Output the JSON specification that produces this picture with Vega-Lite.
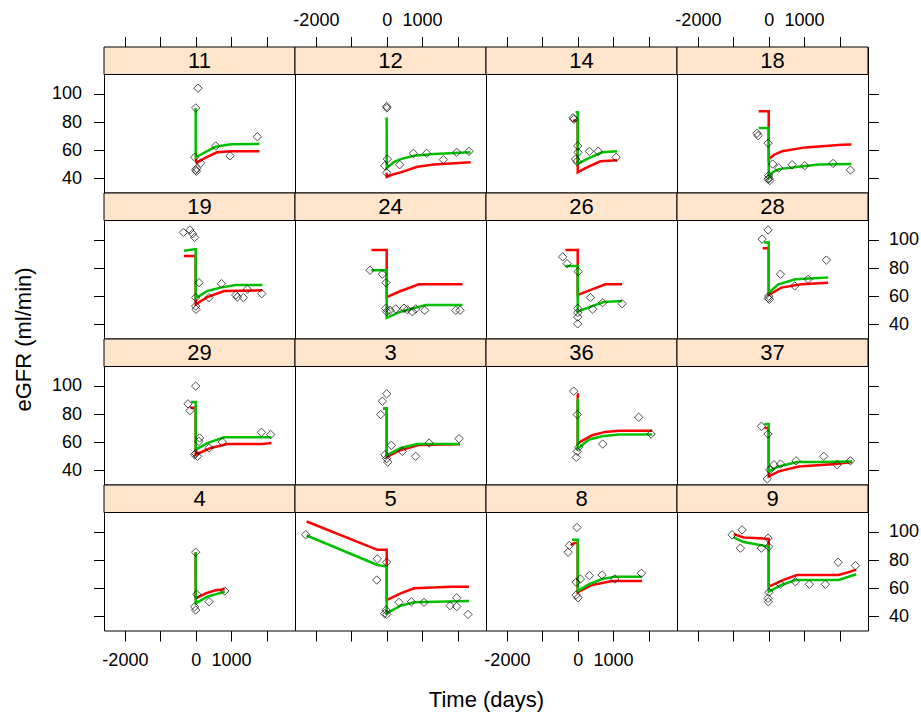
{
"$schema": "https://vega.github.io/schema/vega-lite/v6.json",
"padding": {"left": 11, "top": 11, "right": 2, "bottom": 2},
"datasets": {
"strips": [{"p":"11"},{"p":"12"},{"p":"14"},{"p":"18"},{"p":"19"},{"p":"24"},{"p":"26"},{"p":"28"},{"p":"29"},{"p":"3"},{"p":"36"},{"p":"37"},{"p":"4"},{"p":"5"},{"p":"8"},{"p":"9"}],
"obs": [
{"p":"11","t":65,"v":104},{"p":"11","t":0,"v":90},{"p":"11","t":-28,"v":55},{"p":"11","t":140,"v":51},{"p":"11","t":0,"v":46},{"p":"11","t":20,"v":45},{"p":"11","t":30,"v":47},{"p":"11","t":565,"v":63},{"p":"11","t":970,"v":56},{"p":"11","t":1743,"v":69.5},
{"p":"12","t":0,"v":91},{"p":"12","t":5,"v":90},{"p":"12","t":20,"v":53.7},{"p":"12","t":-56,"v":49},{"p":"12","t":0,"v":44},{"p":"12","t":367,"v":49.7},{"p":"12","t":754,"v":57.8},{"p":"12","t":1130,"v":57.8},{"p":"12","t":1601,"v":53.3},{"p":"12","t":1977,"v":58.5},{"p":"12","t":2326,"v":59.2},
{"p":"14","t":-130,"v":83},{"p":"14","t":-110,"v":82},{"p":"14","t":0,"v":63},{"p":"14","t":10,"v":58.5},{"p":"14","t":-60,"v":53.7},{"p":"14","t":-20,"v":52},{"p":"14","t":330,"v":59.2},{"p":"14","t":576,"v":59.2},{"p":"14","t":1085,"v":55},
{"p":"18","t":-330,"v":72},{"p":"18","t":-300,"v":70.3},{"p":"18","t":-17,"v":65},{"p":"18","t":0,"v":42},{"p":"18","t":10,"v":40},{"p":"18","t":-20,"v":39.5},{"p":"18","t":30,"v":38.5},{"p":"18","t":113,"v":50.2},{"p":"18","t":283,"v":47.3},{"p":"18","t":661,"v":49.7},{"p":"18","t":1017,"v":49},{"p":"18","t":1819,"v":50.6},{"p":"18","t":2308,"v":45.9},
{"p":"19","t":-348,"v":105.2},{"p":"19","t":-161,"v":107},{"p":"19","t":-90,"v":104.3},{"p":"19","t":-30,"v":101.7},{"p":"19","t":94,"v":69.6},{"p":"19","t":0,"v":59},{"p":"19","t":0,"v":53},{"p":"19","t":10,"v":50.7},{"p":"19","t":377,"v":59},{"p":"19","t":726,"v":68.9},{"p":"19","t":1130,"v":60.9},{"p":"19","t":1177,"v":59.4},{"p":"19","t":1347,"v":59},{"p":"19","t":1460,"v":64.9},{"p":"19","t":1865,"v":61.8},
{"p":"24","t":-471,"v":78.4},{"p":"24","t":-122,"v":75.6},{"p":"24","t":-20,"v":69.6},{"p":"24","t":-30,"v":51.4},{"p":"24","t":0,"v":49},{"p":"24","t":93,"v":50},{"p":"24","t":254,"v":51},{"p":"24","t":489,"v":51.5},{"p":"24","t":584,"v":50.5},{"p":"24","t":726,"v":49},{"p":"24","t":819,"v":51},{"p":"24","t":1073,"v":50},{"p":"24","t":1950,"v":50},{"p":"24","t":2070,"v":50},
{"p":"26","t":-424,"v":87.9},{"p":"26","t":-300,"v":83.1},{"p":"26","t":15,"v":77.4},{"p":"26","t":359,"v":59},{"p":"26","t":424,"v":50.7},{"p":"26","t":0,"v":51.4},{"p":"26","t":0,"v":48.3},{"p":"26","t":0,"v":45.2},{"p":"26","t":0,"v":40.4},{"p":"26","t":706,"v":55.4},{"p":"26","t":1254,"v":54.7},
{"p":"28","t":-17,"v":107},{"p":"28","t":-186,"v":100.5},{"p":"28","t":331,"v":75.6},{"p":"28","t":735,"v":67.3},{"p":"28","t":1113,"v":72},{"p":"28","t":1630,"v":85.6},{"p":"28","t":0,"v":60},{"p":"28","t":20,"v":57.8},{"p":"28","t":-10,"v":58.5},
{"p":"29","t":0,"v":99.8},{"p":"29","t":-217,"v":87.2},{"p":"29","t":-161,"v":82.4},{"p":"29","t":110,"v":63},{"p":"29","t":90,"v":60.6},{"p":"29","t":-30,"v":51.1},{"p":"29","t":50,"v":50},{"p":"29","t":0,"v":52},{"p":"29","t":377,"v":55.9},{"p":"29","t":754,"v":60.1},{"p":"29","t":1856,"v":67},{"p":"29","t":2119,"v":65.4},
{"p":"3","t":0,"v":94.3},{"p":"3","t":-122,"v":89.1},{"p":"3","t":-170,"v":79.6},{"p":"3","t":132,"v":57.8},{"p":"3","t":-50,"v":51.1},{"p":"3","t":0,"v":48.3},{"p":"3","t":30,"v":45.9},{"p":"3","t":443,"v":53.5},{"p":"3","t":819,"v":50},{"p":"3","t":1196,"v":59.4},{"p":"3","t":2044,"v":62.5},
{"p":"36","t":-113,"v":96.2},{"p":"36","t":-10,"v":79.6},{"p":"36","t":30,"v":56.4},{"p":"36","t":-10,"v":53.5},{"p":"36","t":-40,"v":49.3},{"p":"36","t":706,"v":58.7},{"p":"36","t":1723,"v":77.7},{"p":"36","t":2073,"v":65.8},
{"p":"37","t":-206,"v":71.3},{"p":"37","t":-20,"v":65.8},{"p":"37","t":150,"v":44},{"p":"37","t":30,"v":40.4},{"p":"37","t":-40,"v":34},{"p":"37","t":331,"v":44.5},{"p":"37","t":774,"v":46.8},{"p":"37","t":1555,"v":50},{"p":"37","t":1932,"v":44},{"p":"37","t":2308,"v":46.8},
{"p":"4","t":0,"v":85.5},{"p":"4","t":30,"v":55.7},{"p":"4","t":-30,"v":46.8},{"p":"4","t":0,"v":44.5},{"p":"4","t":377,"v":50.4},{"p":"4","t":820,"v":58},
{"p":"5","t":-2288,"v":97.9},{"p":"5","t":-263,"v":80.8},{"p":"5","t":0,"v":78.4},{"p":"5","t":-282,"v":65.8},{"p":"5","t":-20,"v":44.5},{"p":"5","t":0,"v":41.4},{"p":"5","t":-60,"v":42},{"p":"5","t":348,"v":50},{"p":"5","t":697,"v":50.4},{"p":"5","t":1054,"v":50},{"p":"5","t":1789,"v":47.6},{"p":"5","t":1978,"v":53.2},{"p":"5","t":1978,"v":47},{"p":"5","t":2298,"v":41.4},
{"p":"8","t":-20,"v":103.1},{"p":"8","t":-234,"v":90.3},{"p":"8","t":-271,"v":85.5},{"p":"8","t":-45,"v":64.2},{"p":"8","t":76,"v":66.5},{"p":"8","t":-45,"v":55.2},{"p":"8","t":10,"v":53.2},{"p":"8","t":330,"v":68.9},{"p":"8","t":689,"v":69.4},{"p":"8","t":1045,"v":66.5},{"p":"8","t":1800,"v":70.6},
{"p":"9","t":-1034,"v":97.9},{"p":"9","t":-752,"v":101.4},{"p":"9","t":-800,"v":88.4},{"p":"9","t":-206,"v":88.4},{"p":"9","t":-17,"v":95.5},{"p":"9","t":0,"v":89.5},{"p":"9","t":-17,"v":52.8},{"p":"9","t":-10,"v":50.4},{"p":"9","t":10,"v":57.1},{"p":"9","t":331,"v":62.8},{"p":"9","t":754,"v":64.6},{"p":"9","t":1150,"v":62.8},{"p":"9","t":1602,"v":62.8},{"p":"9","t":1960,"v":78.4},{"p":"9","t":2450,"v":76}
],
"fit": [
{"p":"11","c":"red","t":0,"v":54},{"p":"11","c":"red","t":30,"v":51},{"p":"11","c":"red","t":300,"v":55},{"p":"11","c":"red","t":600,"v":58.5},{"p":"11","c":"red","t":1000,"v":59.3},{"p":"11","c":"red","t":1800,"v":59.3},
{"p":"11","c":"green","t":0,"v":90},{"p":"11","c":"green","t":1,"v":55},{"p":"11","c":"green","t":300,"v":59},{"p":"11","c":"green","t":565,"v":62.5},{"p":"11","c":"green","t":990,"v":64.2},{"p":"11","c":"green","t":1800,"v":64.5},
{"p":"12","c":"red","t":0,"v":44},{"p":"12","c":"red","t":5,"v":41},{"p":"12","c":"red","t":200,"v":43},{"p":"12","c":"red","t":395,"v":44.3},{"p":"12","c":"red","t":867,"v":48.3},{"p":"12","c":"red","t":1337,"v":49.8},{"p":"12","c":"red","t":2370,"v":51.4},
{"p":"12","c":"green","t":0,"v":83.4},{"p":"12","c":"green","t":1,"v":47.3},{"p":"12","c":"green","t":200,"v":51.5},{"p":"12","c":"green","t":395,"v":53.7},{"p":"12","c":"green","t":772,"v":56.1},{"p":"12","c":"green","t":1337,"v":57.3},{"p":"12","c":"green","t":2370,"v":58.5},
{"p":"14","c":"red","t":-130,"v":81},{"p":"14","c":"red","t":0,"v":81},{"p":"14","c":"red","t":1,"v":44.3},{"p":"14","c":"red","t":218,"v":47.3},{"p":"14","c":"red","t":641,"v":52.1},{"p":"14","c":"red","t":1113,"v":52.8},
{"p":"14","c":"green","t":-60,"v":87},{"p":"14","c":"green","t":0,"v":87},{"p":"14","c":"green","t":1,"v":50.2},{"p":"14","c":"green","t":200,"v":53},{"p":"14","c":"green","t":407,"v":55.4},{"p":"14","c":"green","t":689,"v":58.5},{"p":"14","c":"green","t":1113,"v":59.2},
{"p":"18","c":"red","t":-283,"v":87.7},{"p":"18","c":"red","t":0,"v":87.7},{"p":"18","c":"red","t":1,"v":53.7},{"p":"18","c":"red","t":150,"v":56.8},{"p":"18","c":"red","t":379,"v":59.2},{"p":"18","c":"red","t":1037,"v":62},{"p":"18","c":"red","t":2074,"v":63.9},{"p":"18","c":"red","t":2336,"v":64},
{"p":"18","c":"green","t":-283,"v":75.8},{"p":"18","c":"green","t":0,"v":75.8},{"p":"18","c":"green","t":1,"v":40.7},{"p":"18","c":"green","t":120,"v":44.5},{"p":"18","c":"green","t":283,"v":46.6},{"p":"18","c":"green","t":848,"v":48.3},{"p":"18","c":"green","t":1413,"v":49.8},{"p":"18","c":"green","t":2336,"v":50.2},
{"p":"19","c":"red","t":-330,"v":88.6},{"p":"19","c":"red","t":0,"v":88.6},{"p":"19","c":"red","t":1,"v":54.2},{"p":"19","c":"red","t":330,"v":59.4},{"p":"19","c":"red","t":800,"v":63.7},{"p":"19","c":"red","t":1884,"v":64.2},
{"p":"19","c":"green","t":-330,"v":92.2},{"p":"19","c":"green","t":0,"v":93.4},{"p":"19","c":"green","t":1,"v":58.5},{"p":"19","c":"green","t":330,"v":63.7},{"p":"19","c":"green","t":706,"v":66.1},{"p":"19","c":"green","t":1130,"v":68},{"p":"19","c":"green","t":1884,"v":68},
{"p":"24","c":"red","t":-433,"v":92.7},{"p":"24","c":"red","t":0,"v":92.7},{"p":"24","c":"red","t":1,"v":59.4},{"p":"24","c":"red","t":395,"v":63.7},{"p":"24","c":"red","t":913,"v":68.4},{"p":"24","c":"red","t":2138,"v":68.4},
{"p":"24","c":"green","t":-433,"v":78.4},{"p":"24","c":"green","t":0,"v":78.4},{"p":"24","c":"green","t":1,"v":44.7},{"p":"24","c":"green","t":395,"v":49},{"p":"24","c":"green","t":1102,"v":53.7},{"p":"24","c":"green","t":2138,"v":53.7},
{"p":"26","c":"red","t":-346,"v":92.7},{"p":"26","c":"red","t":0,"v":92.7},{"p":"26","c":"red","t":1,"v":60.9},{"p":"26","c":"red","t":407,"v":64.9},{"p":"26","c":"red","t":783,"v":68.4},{"p":"26","c":"red","t":1254,"v":68.4},
{"p":"26","c":"green","t":-346,"v":81.5},{"p":"26","c":"green","t":0,"v":81.5},{"p":"26","c":"green","t":1,"v":49},{"p":"26","c":"green","t":407,"v":53},{"p":"26","c":"green","t":735,"v":55.9},{"p":"26","c":"green","t":1254,"v":56.6},
{"p":"28","c":"red","t":-170,"v":94.1},{"p":"28","c":"red","t":0,"v":94.1},{"p":"28","c":"red","t":1,"v":60.9},{"p":"28","c":"red","t":359,"v":66.1},{"p":"28","c":"red","t":924,"v":68.4},{"p":"28","c":"red","t":1678,"v":69.6},
{"p":"28","c":"green","t":-130,"v":98.1},{"p":"28","c":"green","t":0,"v":98.1},{"p":"28","c":"green","t":1,"v":62.5},{"p":"28","c":"green","t":274,"v":68.4},{"p":"28","c":"green","t":754,"v":72},{"p":"28","c":"green","t":1678,"v":73.2},
{"p":"29","c":"red","t":-150,"v":84.5},{"p":"29","c":"red","t":0,"v":84.5},{"p":"29","c":"red","t":1,"v":51.1},{"p":"29","c":"red","t":424,"v":55.9},{"p":"29","c":"red","t":895,"v":58.7},{"p":"29","c":"red","t":1884,"v":58.7},{"p":"29","c":"red","t":2138,"v":59.4},
{"p":"29","c":"green","t":-130,"v":88.6},{"p":"29","c":"green","t":0,"v":88.6},{"p":"29","c":"green","t":1,"v":54.7},{"p":"29","c":"green","t":330,"v":59.4},{"p":"29","c":"green","t":800,"v":63.5},{"p":"29","c":"green","t":2138,"v":63.5},
{"p":"3","c":"red","t":-100,"v":83.9},{"p":"3","c":"red","t":0,"v":83.9},{"p":"3","c":"red","t":1,"v":49.5},{"p":"3","c":"red","t":400,"v":54.5},{"p":"3","c":"red","t":900,"v":58},{"p":"3","c":"red","t":2071,"v":58.5},
{"p":"3","c":"green","t":-100,"v":83.9},{"p":"3","c":"green","t":0,"v":83.9},{"p":"3","c":"green","t":1,"v":50.7},{"p":"3","c":"green","t":395,"v":55.9},{"p":"3","c":"green","t":867,"v":58.7},{"p":"3","c":"green","t":2071,"v":58.7},
{"p":"36","c":"red","t":-20,"v":94},{"p":"36","c":"red","t":0,"v":94},{"p":"36","c":"red","t":1,"v":59.4},{"p":"36","c":"red","t":407,"v":64.9},{"p":"36","c":"red","t":783,"v":67.3},{"p":"36","c":"red","t":1158,"v":68.2},{"p":"36","c":"red","t":2101,"v":68.2},
{"p":"36","c":"green","t":-20,"v":90.3},{"p":"36","c":"green","t":0,"v":90.3},{"p":"36","c":"green","t":1,"v":55.4},{"p":"36","c":"green","t":311,"v":61.8},{"p":"36","c":"green","t":689,"v":64.2},{"p":"36","c":"green","t":1158,"v":65.4},{"p":"36","c":"green","t":2101,"v":65.4},
{"p":"37","c":"red","t":-120,"v":70.1},{"p":"37","c":"red","t":0,"v":70.1},{"p":"37","c":"red","t":1,"v":35.7},{"p":"37","c":"red","t":283,"v":39.3},{"p":"37","c":"red","t":848,"v":42.8},{"p":"37","c":"red","t":1885,"v":44.5},{"p":"37","c":"red","t":2357,"v":45.9},
{"p":"37","c":"green","t":-120,"v":73},{"p":"37","c":"green","t":0,"v":73},{"p":"37","c":"green","t":1,"v":39.3},{"p":"37","c":"green","t":283,"v":42.8},{"p":"37","c":"green","t":802,"v":45.9},{"p":"37","c":"green","t":1413,"v":45.9},{"p":"37","c":"green","t":2357,"v":46.4},
{"p":"4","c":"red","t":0,"v":85.5},{"p":"4","c":"red","t":1,"v":52.8},{"p":"4","c":"red","t":300,"v":56.5},{"p":"4","c":"red","t":565,"v":58.5},{"p":"4","c":"red","t":820,"v":59.2},
{"p":"4","c":"green","t":0,"v":85.5},{"p":"4","c":"green","t":1,"v":49.2},{"p":"4","c":"green","t":330,"v":54},{"p":"4","c":"green","t":820,"v":57.5},
{"p":"5","c":"red","t":-2260,"v":107.3},{"p":"5","c":"red","t":-263,"v":87.2},{"p":"5","c":"red","t":0,"v":87.2},{"p":"5","c":"red","t":1,"v":51.6},{"p":"5","c":"red","t":395,"v":56.4},{"p":"5","c":"red","t":772,"v":59.9},{"p":"5","c":"red","t":1836,"v":61.1},{"p":"5","c":"red","t":2326,"v":61.1},
{"p":"5","c":"green","t":-2260,"v":97.4},{"p":"5","c":"green","t":-263,"v":76.5},{"p":"5","c":"green","t":0,"v":75.4},{"p":"5","c":"green","t":1,"v":42.1},{"p":"5","c":"green","t":395,"v":47.6},{"p":"5","c":"green","t":772,"v":50},{"p":"5","c":"green","t":2326,"v":50.9},
{"p":"8","c":"red","t":-200,"v":90.5},{"p":"8","c":"red","t":-100,"v":92},{"p":"8","c":"red","t":0,"v":92},{"p":"8","c":"red","t":1,"v":57.1},{"p":"8","c":"red","t":407,"v":62.3},{"p":"8","c":"red","t":972,"v":65.1},{"p":"8","c":"red","t":1818,"v":65.1},
{"p":"8","c":"green","t":-160,"v":94.3},{"p":"8","c":"green","t":0,"v":94.3},{"p":"8","c":"green","t":1,"v":58},{"p":"8","c":"green","t":311,"v":62.8},{"p":"8","c":"green","t":689,"v":66.5},{"p":"8","c":"green","t":1065,"v":68.2},{"p":"8","c":"green","t":1818,"v":68.2},
{"p":"9","c":"red","t":-989,"v":98.4},{"p":"9","c":"red","t":-706,"v":96},{"p":"9","c":"red","t":0,"v":95},{"p":"9","c":"red","t":1,"v":61.1},{"p":"9","c":"red","t":472,"v":66.5},{"p":"9","c":"red","t":802,"v":69.4},{"p":"9","c":"red","t":1978,"v":69.4},{"p":"9","c":"red","t":2470,"v":73},
{"p":"9","c":"green","t":-989,"v":96},{"p":"9","c":"green","t":-706,"v":92.7},{"p":"9","c":"green","t":0,"v":89.5},{"p":"9","c":"green","t":1,"v":57.5},{"p":"9","c":"green","t":359,"v":62.3},{"p":"9","c":"green","t":754,"v":65.8},{"p":"9","c":"green","t":1978,"v":65.8},{"p":"9","c":"green","t":2470,"v":69.9}
]
},
"columns": 4,
"spacing": 0,
"bounds": "flush",
"concat": [
{"width":191,"height":145.5,"resolve":{"axis":{"x":"independent","y":"independent"}},"layer":[
 {"data":{"name":"strips"},"transform":[{"filter":"datum.p=='11'"}],"mark":{"type":"rect","fill":"#ffe5cc","stroke":"black","strokeWidth":1},"encoding":{"x":{"datum":-2590,"type":"quantitative","axis":null},"x2":{"datum":2805},"y":{"datum":113.7,"type":"quantitative","axis":null},"y2":{"datum":133.2}}},
 {"data":{"name":"strips"},"transform":[{"filter":"datum.p=='11'"}],"mark":{"type":"text","fontSize":22,"font":"Liberation Sans","color":"black"},"encoding":{"x":{"datum":107.5,"type":"quantitative","axis":null},"y":{"datum":123.45,"type":"quantitative","axis":null},"text":{"field":"p"}}},
 {"data":{"name":"fit"},"transform":[{"filter":"datum.p=='11'"}],"mark":{"type":"line","strokeWidth":2.5},"encoding":{"x":{"field":"t","type":"quantitative","scale":{"domain":[-2590,2805],"nice":false,"zero":false},"axis":{"orient":"top","values":[-2000,-1000,0,1000,2000],"labels":false,"title":null}},"y":{"field":"v","type":"quantitative","scale":{"domain":[30,133.2],"nice":false,"zero":false},"axis":{"orient":"left","values":[40,60,80,100],"title":null}},"color":{"field":"c","type":"nominal","scale":{"domain":["red","green"],"range":["#ff0000","#00c000"]},"legend":null}}},
 {"data":{"name":"obs"},"transform":[{"filter":"datum.p=='11'"}],"mark":{"type":"point","shape":"diamond","filled":false,"color":"black","size":70,"strokeWidth":1},"encoding":{"x":{"field":"t","type":"quantitative","axis":null},"y":{"field":"v","type":"quantitative","axis":null}}}
]},
{"width":191,"height":145.5,"resolve":{"axis":{"x":"independent","y":"independent"}},"layer":[
 {"data":{"name":"strips"},"transform":[{"filter":"datum.p=='12'"}],"mark":{"type":"rect","fill":"#ffe5cc","stroke":"black","strokeWidth":1},"encoding":{"x":{"datum":-2590,"type":"quantitative","axis":null},"x2":{"datum":2805},"y":{"datum":113.7,"type":"quantitative","axis":null},"y2":{"datum":133.2}}},
 {"data":{"name":"strips"},"transform":[{"filter":"datum.p=='12'"}],"mark":{"type":"text","fontSize":22,"font":"Liberation Sans","color":"black"},"encoding":{"x":{"datum":107.5,"type":"quantitative","axis":null},"y":{"datum":123.45,"type":"quantitative","axis":null},"text":{"field":"p"}}},
 {"data":{"name":"fit"},"transform":[{"filter":"datum.p=='12'"}],"mark":{"type":"line","strokeWidth":2.5},"encoding":{"x":{"field":"t","type":"quantitative","scale":{"domain":[-2590,2805],"nice":false,"zero":false},"axis":{"orient":"top","values":[-2000,-1000,0,1000,2000],"labelExpr":"datum.value==-2000?'-2000':datum.value==0?'0':datum.value==1000?'1000':''","title":null}},"y":{"field":"v","type":"quantitative","scale":{"domain":[30,133.2],"nice":false,"zero":false},"axis":null},"color":{"field":"c","type":"nominal","scale":{"domain":["red","green"],"range":["#ff0000","#00c000"]},"legend":null}}},
 {"data":{"name":"obs"},"transform":[{"filter":"datum.p=='12'"}],"mark":{"type":"point","shape":"diamond","filled":false,"color":"black","size":70,"strokeWidth":1},"encoding":{"x":{"field":"t","type":"quantitative","axis":null},"y":{"field":"v","type":"quantitative","axis":null}}}
]},
{"width":191,"height":145.5,"resolve":{"axis":{"x":"independent","y":"independent"}},"layer":[
 {"data":{"name":"strips"},"transform":[{"filter":"datum.p=='14'"}],"mark":{"type":"rect","fill":"#ffe5cc","stroke":"black","strokeWidth":1},"encoding":{"x":{"datum":-2590,"type":"quantitative","axis":null},"x2":{"datum":2805},"y":{"datum":113.7,"type":"quantitative","axis":null},"y2":{"datum":133.2}}},
 {"data":{"name":"strips"},"transform":[{"filter":"datum.p=='14'"}],"mark":{"type":"text","fontSize":22,"font":"Liberation Sans","color":"black"},"encoding":{"x":{"datum":107.5,"type":"quantitative","axis":null},"y":{"datum":123.45,"type":"quantitative","axis":null},"text":{"field":"p"}}},
 {"data":{"name":"fit"},"transform":[{"filter":"datum.p=='14'"}],"mark":{"type":"line","strokeWidth":2.5},"encoding":{"x":{"field":"t","type":"quantitative","scale":{"domain":[-2590,2805],"nice":false,"zero":false},"axis":{"orient":"top","values":[-2000,-1000,0,1000,2000],"labels":false,"title":null}},"y":{"field":"v","type":"quantitative","scale":{"domain":[30,133.2],"nice":false,"zero":false},"axis":null},"color":{"field":"c","type":"nominal","scale":{"domain":["red","green"],"range":["#ff0000","#00c000"]},"legend":null}}},
 {"data":{"name":"obs"},"transform":[{"filter":"datum.p=='14'"}],"mark":{"type":"point","shape":"diamond","filled":false,"color":"black","size":70,"strokeWidth":1},"encoding":{"x":{"field":"t","type":"quantitative","axis":null},"y":{"field":"v","type":"quantitative","axis":null}}}
]},
{"width":191,"height":145.5,"resolve":{"axis":{"x":"independent","y":"independent"}},"layer":[
 {"data":{"name":"strips"},"transform":[{"filter":"datum.p=='18'"}],"mark":{"type":"rect","fill":"#ffe5cc","stroke":"black","strokeWidth":1},"encoding":{"x":{"datum":-2590,"type":"quantitative","axis":null},"x2":{"datum":2805},"y":{"datum":113.7,"type":"quantitative","axis":null},"y2":{"datum":133.2}}},
 {"data":{"name":"strips"},"transform":[{"filter":"datum.p=='18'"}],"mark":{"type":"text","fontSize":22,"font":"Liberation Sans","color":"black"},"encoding":{"x":{"datum":107.5,"type":"quantitative","axis":null},"y":{"datum":123.45,"type":"quantitative","axis":null},"text":{"field":"p"}}},
 {"data":{"name":"fit"},"transform":[{"filter":"datum.p=='18'"}],"mark":{"type":"line","strokeWidth":2.5},"encoding":{"x":{"field":"t","type":"quantitative","scale":{"domain":[-2590,2805],"nice":false,"zero":false},"axis":{"orient":"top","values":[-2000,-1000,0,1000,2000],"labelExpr":"datum.value==-2000?'-2000':datum.value==0?'0':datum.value==1000?'1000':''","title":null}},"y":{"field":"v","type":"quantitative","scale":{"domain":[30,133.2],"nice":false,"zero":false},"axis":{"orient":"right","values":[40,60,80,100],"labels":false,"title":null}},"color":{"field":"c","type":"nominal","scale":{"domain":["red","green"],"range":["#ff0000","#00c000"]},"legend":null}}},
 {"data":{"name":"obs"},"transform":[{"filter":"datum.p=='18'"}],"mark":{"type":"point","shape":"diamond","filled":false,"color":"black","size":70,"strokeWidth":1},"encoding":{"x":{"field":"t","type":"quantitative","axis":null},"y":{"field":"v","type":"quantitative","axis":null}}}
]},
{"width":191,"height":145.5,"resolve":{"axis":{"x":"independent","y":"independent"}},"layer":[
 {"data":{"name":"strips"},"transform":[{"filter":"datum.p=='19'"}],"mark":{"type":"rect","fill":"#ffe5cc","stroke":"black","strokeWidth":1},"encoding":{"x":{"datum":-2590,"type":"quantitative","axis":null},"x2":{"datum":2805},"y":{"datum":113.7,"type":"quantitative","axis":null},"y2":{"datum":133.2}}},
 {"data":{"name":"strips"},"transform":[{"filter":"datum.p=='19'"}],"mark":{"type":"text","fontSize":22,"font":"Liberation Sans","color":"black"},"encoding":{"x":{"datum":107.5,"type":"quantitative","axis":null},"y":{"datum":123.45,"type":"quantitative","axis":null},"text":{"field":"p"}}},
 {"data":{"name":"fit"},"transform":[{"filter":"datum.p=='19'"}],"mark":{"type":"line","strokeWidth":2.5},"encoding":{"x":{"field":"t","type":"quantitative","scale":{"domain":[-2590,2805],"nice":false,"zero":false},"axis":null},"y":{"field":"v","type":"quantitative","scale":{"domain":[30,133.2],"nice":false,"zero":false},"axis":{"orient":"left","values":[40,60,80,100],"labels":false,"title":null}},"color":{"field":"c","type":"nominal","scale":{"domain":["red","green"],"range":["#ff0000","#00c000"]},"legend":null}}},
 {"data":{"name":"obs"},"transform":[{"filter":"datum.p=='19'"}],"mark":{"type":"point","shape":"diamond","filled":false,"color":"black","size":70,"strokeWidth":1},"encoding":{"x":{"field":"t","type":"quantitative","axis":null},"y":{"field":"v","type":"quantitative","axis":null}}}
]},
{"width":191,"height":145.5,"resolve":{"axis":{"x":"independent","y":"independent"}},"layer":[
 {"data":{"name":"strips"},"transform":[{"filter":"datum.p=='24'"}],"mark":{"type":"rect","fill":"#ffe5cc","stroke":"black","strokeWidth":1},"encoding":{"x":{"datum":-2590,"type":"quantitative","axis":null},"x2":{"datum":2805},"y":{"datum":113.7,"type":"quantitative","axis":null},"y2":{"datum":133.2}}},
 {"data":{"name":"strips"},"transform":[{"filter":"datum.p=='24'"}],"mark":{"type":"text","fontSize":22,"font":"Liberation Sans","color":"black"},"encoding":{"x":{"datum":107.5,"type":"quantitative","axis":null},"y":{"datum":123.45,"type":"quantitative","axis":null},"text":{"field":"p"}}},
 {"data":{"name":"fit"},"transform":[{"filter":"datum.p=='24'"}],"mark":{"type":"line","strokeWidth":2.5},"encoding":{"x":{"field":"t","type":"quantitative","scale":{"domain":[-2590,2805],"nice":false,"zero":false},"axis":null},"y":{"field":"v","type":"quantitative","scale":{"domain":[30,133.2],"nice":false,"zero":false},"axis":null},"color":{"field":"c","type":"nominal","scale":{"domain":["red","green"],"range":["#ff0000","#00c000"]},"legend":null}}},
 {"data":{"name":"obs"},"transform":[{"filter":"datum.p=='24'"}],"mark":{"type":"point","shape":"diamond","filled":false,"color":"black","size":70,"strokeWidth":1},"encoding":{"x":{"field":"t","type":"quantitative","axis":null},"y":{"field":"v","type":"quantitative","axis":null}}}
]},
{"width":191,"height":145.5,"resolve":{"axis":{"x":"independent","y":"independent"}},"layer":[
 {"data":{"name":"strips"},"transform":[{"filter":"datum.p=='26'"}],"mark":{"type":"rect","fill":"#ffe5cc","stroke":"black","strokeWidth":1},"encoding":{"x":{"datum":-2590,"type":"quantitative","axis":null},"x2":{"datum":2805},"y":{"datum":113.7,"type":"quantitative","axis":null},"y2":{"datum":133.2}}},
 {"data":{"name":"strips"},"transform":[{"filter":"datum.p=='26'"}],"mark":{"type":"text","fontSize":22,"font":"Liberation Sans","color":"black"},"encoding":{"x":{"datum":107.5,"type":"quantitative","axis":null},"y":{"datum":123.45,"type":"quantitative","axis":null},"text":{"field":"p"}}},
 {"data":{"name":"fit"},"transform":[{"filter":"datum.p=='26'"}],"mark":{"type":"line","strokeWidth":2.5},"encoding":{"x":{"field":"t","type":"quantitative","scale":{"domain":[-2590,2805],"nice":false,"zero":false},"axis":null},"y":{"field":"v","type":"quantitative","scale":{"domain":[30,133.2],"nice":false,"zero":false},"axis":null},"color":{"field":"c","type":"nominal","scale":{"domain":["red","green"],"range":["#ff0000","#00c000"]},"legend":null}}},
 {"data":{"name":"obs"},"transform":[{"filter":"datum.p=='26'"}],"mark":{"type":"point","shape":"diamond","filled":false,"color":"black","size":70,"strokeWidth":1},"encoding":{"x":{"field":"t","type":"quantitative","axis":null},"y":{"field":"v","type":"quantitative","axis":null}}}
]},
{"width":191,"height":145.5,"resolve":{"axis":{"x":"independent","y":"independent"}},"layer":[
 {"data":{"name":"strips"},"transform":[{"filter":"datum.p=='28'"}],"mark":{"type":"rect","fill":"#ffe5cc","stroke":"black","strokeWidth":1},"encoding":{"x":{"datum":-2590,"type":"quantitative","axis":null},"x2":{"datum":2805},"y":{"datum":113.7,"type":"quantitative","axis":null},"y2":{"datum":133.2}}},
 {"data":{"name":"strips"},"transform":[{"filter":"datum.p=='28'"}],"mark":{"type":"text","fontSize":22,"font":"Liberation Sans","color":"black"},"encoding":{"x":{"datum":107.5,"type":"quantitative","axis":null},"y":{"datum":123.45,"type":"quantitative","axis":null},"text":{"field":"p"}}},
 {"data":{"name":"fit"},"transform":[{"filter":"datum.p=='28'"}],"mark":{"type":"line","strokeWidth":2.5},"encoding":{"x":{"field":"t","type":"quantitative","scale":{"domain":[-2590,2805],"nice":false,"zero":false},"axis":null},"y":{"field":"v","type":"quantitative","scale":{"domain":[30,133.2],"nice":false,"zero":false},"axis":{"orient":"right","values":[40,60,80,100],"title":null}},"color":{"field":"c","type":"nominal","scale":{"domain":["red","green"],"range":["#ff0000","#00c000"]},"legend":null}}},
 {"data":{"name":"obs"},"transform":[{"filter":"datum.p=='28'"}],"mark":{"type":"point","shape":"diamond","filled":false,"color":"black","size":70,"strokeWidth":1},"encoding":{"x":{"field":"t","type":"quantitative","axis":null},"y":{"field":"v","type":"quantitative","axis":null}}}
]},
{"width":191,"height":145.5,"resolve":{"axis":{"x":"independent","y":"independent"}},"layer":[
 {"data":{"name":"strips"},"transform":[{"filter":"datum.p=='29'"}],"mark":{"type":"rect","fill":"#ffe5cc","stroke":"black","strokeWidth":1},"encoding":{"x":{"datum":-2590,"type":"quantitative","axis":null},"x2":{"datum":2805},"y":{"datum":113.7,"type":"quantitative","axis":null},"y2":{"datum":133.2}}},
 {"data":{"name":"strips"},"transform":[{"filter":"datum.p=='29'"}],"mark":{"type":"text","fontSize":22,"font":"Liberation Sans","color":"black"},"encoding":{"x":{"datum":107.5,"type":"quantitative","axis":null},"y":{"datum":123.45,"type":"quantitative","axis":null},"text":{"field":"p"}}},
 {"data":{"name":"fit"},"transform":[{"filter":"datum.p=='29'"}],"mark":{"type":"line","strokeWidth":2.5},"encoding":{"x":{"field":"t","type":"quantitative","scale":{"domain":[-2590,2805],"nice":false,"zero":false},"axis":null},"y":{"field":"v","type":"quantitative","scale":{"domain":[30,133.2],"nice":false,"zero":false},"axis":{"orient":"left","values":[40,60,80,100],"title":"eGFR (ml/min)","titleY":0,"titlePadding":16}},"color":{"field":"c","type":"nominal","scale":{"domain":["red","green"],"range":["#ff0000","#00c000"]},"legend":null}}},
 {"data":{"name":"obs"},"transform":[{"filter":"datum.p=='29'"}],"mark":{"type":"point","shape":"diamond","filled":false,"color":"black","size":70,"strokeWidth":1},"encoding":{"x":{"field":"t","type":"quantitative","axis":null},"y":{"field":"v","type":"quantitative","axis":null}}}
]},
{"width":191,"height":145.5,"resolve":{"axis":{"x":"independent","y":"independent"}},"layer":[
 {"data":{"name":"strips"},"transform":[{"filter":"datum.p=='3'"}],"mark":{"type":"rect","fill":"#ffe5cc","stroke":"black","strokeWidth":1},"encoding":{"x":{"datum":-2590,"type":"quantitative","axis":null},"x2":{"datum":2805},"y":{"datum":113.7,"type":"quantitative","axis":null},"y2":{"datum":133.2}}},
 {"data":{"name":"strips"},"transform":[{"filter":"datum.p=='3'"}],"mark":{"type":"text","fontSize":22,"font":"Liberation Sans","color":"black"},"encoding":{"x":{"datum":107.5,"type":"quantitative","axis":null},"y":{"datum":123.45,"type":"quantitative","axis":null},"text":{"field":"p"}}},
 {"data":{"name":"fit"},"transform":[{"filter":"datum.p=='3'"}],"mark":{"type":"line","strokeWidth":2.5},"encoding":{"x":{"field":"t","type":"quantitative","scale":{"domain":[-2590,2805],"nice":false,"zero":false},"axis":null},"y":{"field":"v","type":"quantitative","scale":{"domain":[30,133.2],"nice":false,"zero":false},"axis":null},"color":{"field":"c","type":"nominal","scale":{"domain":["red","green"],"range":["#ff0000","#00c000"]},"legend":null}}},
 {"data":{"name":"obs"},"transform":[{"filter":"datum.p=='3'"}],"mark":{"type":"point","shape":"diamond","filled":false,"color":"black","size":70,"strokeWidth":1},"encoding":{"x":{"field":"t","type":"quantitative","axis":null},"y":{"field":"v","type":"quantitative","axis":null}}}
]},
{"width":191,"height":145.5,"resolve":{"axis":{"x":"independent","y":"independent"}},"layer":[
 {"data":{"name":"strips"},"transform":[{"filter":"datum.p=='36'"}],"mark":{"type":"rect","fill":"#ffe5cc","stroke":"black","strokeWidth":1},"encoding":{"x":{"datum":-2590,"type":"quantitative","axis":null},"x2":{"datum":2805},"y":{"datum":113.7,"type":"quantitative","axis":null},"y2":{"datum":133.2}}},
 {"data":{"name":"strips"},"transform":[{"filter":"datum.p=='36'"}],"mark":{"type":"text","fontSize":22,"font":"Liberation Sans","color":"black"},"encoding":{"x":{"datum":107.5,"type":"quantitative","axis":null},"y":{"datum":123.45,"type":"quantitative","axis":null},"text":{"field":"p"}}},
 {"data":{"name":"fit"},"transform":[{"filter":"datum.p=='36'"}],"mark":{"type":"line","strokeWidth":2.5},"encoding":{"x":{"field":"t","type":"quantitative","scale":{"domain":[-2590,2805],"nice":false,"zero":false},"axis":null},"y":{"field":"v","type":"quantitative","scale":{"domain":[30,133.2],"nice":false,"zero":false},"axis":null},"color":{"field":"c","type":"nominal","scale":{"domain":["red","green"],"range":["#ff0000","#00c000"]},"legend":null}}},
 {"data":{"name":"obs"},"transform":[{"filter":"datum.p=='36'"}],"mark":{"type":"point","shape":"diamond","filled":false,"color":"black","size":70,"strokeWidth":1},"encoding":{"x":{"field":"t","type":"quantitative","axis":null},"y":{"field":"v","type":"quantitative","axis":null}}}
]},
{"width":191,"height":145.5,"resolve":{"axis":{"x":"independent","y":"independent"}},"layer":[
 {"data":{"name":"strips"},"transform":[{"filter":"datum.p=='37'"}],"mark":{"type":"rect","fill":"#ffe5cc","stroke":"black","strokeWidth":1},"encoding":{"x":{"datum":-2590,"type":"quantitative","axis":null},"x2":{"datum":2805},"y":{"datum":113.7,"type":"quantitative","axis":null},"y2":{"datum":133.2}}},
 {"data":{"name":"strips"},"transform":[{"filter":"datum.p=='37'"}],"mark":{"type":"text","fontSize":22,"font":"Liberation Sans","color":"black"},"encoding":{"x":{"datum":107.5,"type":"quantitative","axis":null},"y":{"datum":123.45,"type":"quantitative","axis":null},"text":{"field":"p"}}},
 {"data":{"name":"fit"},"transform":[{"filter":"datum.p=='37'"}],"mark":{"type":"line","strokeWidth":2.5},"encoding":{"x":{"field":"t","type":"quantitative","scale":{"domain":[-2590,2805],"nice":false,"zero":false},"axis":null},"y":{"field":"v","type":"quantitative","scale":{"domain":[30,133.2],"nice":false,"zero":false},"axis":{"orient":"right","values":[40,60,80,100],"labels":false,"title":null}},"color":{"field":"c","type":"nominal","scale":{"domain":["red","green"],"range":["#ff0000","#00c000"]},"legend":null}}},
 {"data":{"name":"obs"},"transform":[{"filter":"datum.p=='37'"}],"mark":{"type":"point","shape":"diamond","filled":false,"color":"black","size":70,"strokeWidth":1},"encoding":{"x":{"field":"t","type":"quantitative","axis":null},"y":{"field":"v","type":"quantitative","axis":null}}}
]},
{"width":191,"height":145.5,"resolve":{"axis":{"x":"independent","y":"independent"}},"layer":[
 {"data":{"name":"strips"},"transform":[{"filter":"datum.p=='4'"}],"mark":{"type":"rect","fill":"#ffe5cc","stroke":"black","strokeWidth":1},"encoding":{"x":{"datum":-2590,"type":"quantitative","axis":null},"x2":{"datum":2805},"y":{"datum":113.7,"type":"quantitative","axis":null},"y2":{"datum":133.2}}},
 {"data":{"name":"strips"},"transform":[{"filter":"datum.p=='4'"}],"mark":{"type":"text","fontSize":22,"font":"Liberation Sans","color":"black"},"encoding":{"x":{"datum":107.5,"type":"quantitative","axis":null},"y":{"datum":123.45,"type":"quantitative","axis":null},"text":{"field":"p"}}},
 {"data":{"name":"fit"},"transform":[{"filter":"datum.p=='4'"}],"mark":{"type":"line","strokeWidth":2.5},"encoding":{"x":{"field":"t","type":"quantitative","scale":{"domain":[-2590,2805],"nice":false,"zero":false},"axis":{"orient":"bottom","values":[-2000,-1000,0,1000,2000],"labelExpr":"datum.value==-2000?'-2000':datum.value==0?'0':datum.value==1000?'1000':''","title":null}},"y":{"field":"v","type":"quantitative","scale":{"domain":[30,133.2],"nice":false,"zero":false},"axis":{"orient":"left","values":[40,60,80,100],"labels":false,"title":null}},"color":{"field":"c","type":"nominal","scale":{"domain":["red","green"],"range":["#ff0000","#00c000"]},"legend":null}}},
 {"data":{"name":"obs"},"transform":[{"filter":"datum.p=='4'"}],"mark":{"type":"point","shape":"diamond","filled":false,"color":"black","size":70,"strokeWidth":1},"encoding":{"x":{"field":"t","type":"quantitative","axis":null},"y":{"field":"v","type":"quantitative","axis":null}}}
]},
{"width":191,"height":145.5,"resolve":{"axis":{"x":"independent","y":"independent"}},"layer":[
 {"data":{"name":"strips"},"transform":[{"filter":"datum.p=='5'"}],"mark":{"type":"rect","fill":"#ffe5cc","stroke":"black","strokeWidth":1},"encoding":{"x":{"datum":-2590,"type":"quantitative","axis":null},"x2":{"datum":2805},"y":{"datum":113.7,"type":"quantitative","axis":null},"y2":{"datum":133.2}}},
 {"data":{"name":"strips"},"transform":[{"filter":"datum.p=='5'"}],"mark":{"type":"text","fontSize":22,"font":"Liberation Sans","color":"black"},"encoding":{"x":{"datum":107.5,"type":"quantitative","axis":null},"y":{"datum":123.45,"type":"quantitative","axis":null},"text":{"field":"p"}}},
 {"data":{"name":"fit"},"transform":[{"filter":"datum.p=='5'"}],"mark":{"type":"line","strokeWidth":2.5},"encoding":{"x":{"field":"t","type":"quantitative","scale":{"domain":[-2590,2805],"nice":false,"zero":false},"axis":{"orient":"bottom","values":[-2000,-1000,0,1000,2000],"labels":false,"title":null}},"y":{"field":"v","type":"quantitative","scale":{"domain":[30,133.2],"nice":false,"zero":false},"axis":null},"color":{"field":"c","type":"nominal","scale":{"domain":["red","green"],"range":["#ff0000","#00c000"]},"legend":null}}},
 {"data":{"name":"obs"},"transform":[{"filter":"datum.p=='5'"}],"mark":{"type":"point","shape":"diamond","filled":false,"color":"black","size":70,"strokeWidth":1},"encoding":{"x":{"field":"t","type":"quantitative","axis":null},"y":{"field":"v","type":"quantitative","axis":null}}}
]},
{"width":191,"height":145.5,"resolve":{"axis":{"x":"independent","y":"independent"}},"layer":[
 {"data":{"name":"strips"},"transform":[{"filter":"datum.p=='8'"}],"mark":{"type":"rect","fill":"#ffe5cc","stroke":"black","strokeWidth":1},"encoding":{"x":{"datum":-2590,"type":"quantitative","axis":null},"x2":{"datum":2805},"y":{"datum":113.7,"type":"quantitative","axis":null},"y2":{"datum":133.2}}},
 {"data":{"name":"strips"},"transform":[{"filter":"datum.p=='8'"}],"mark":{"type":"text","fontSize":22,"font":"Liberation Sans","color":"black"},"encoding":{"x":{"datum":107.5,"type":"quantitative","axis":null},"y":{"datum":123.45,"type":"quantitative","axis":null},"text":{"field":"p"}}},
 {"data":{"name":"fit"},"transform":[{"filter":"datum.p=='8'"}],"mark":{"type":"line","strokeWidth":2.5},"encoding":{"x":{"field":"t","type":"quantitative","scale":{"domain":[-2590,2805],"nice":false,"zero":false},"axis":{"orient":"bottom","values":[-2000,-1000,0,1000,2000],"labelExpr":"datum.value==-2000?'-2000':datum.value==0?'0':datum.value==1000?'1000':''","title":"Time (days)","titleX":0,"titlePadding":20}},"y":{"field":"v","type":"quantitative","scale":{"domain":[30,133.2],"nice":false,"zero":false},"axis":null},"color":{"field":"c","type":"nominal","scale":{"domain":["red","green"],"range":["#ff0000","#00c000"]},"legend":null}}},
 {"data":{"name":"obs"},"transform":[{"filter":"datum.p=='8'"}],"mark":{"type":"point","shape":"diamond","filled":false,"color":"black","size":70,"strokeWidth":1},"encoding":{"x":{"field":"t","type":"quantitative","axis":null},"y":{"field":"v","type":"quantitative","axis":null}}}
]},
{"width":191,"height":145.5,"resolve":{"axis":{"x":"independent","y":"independent"}},"layer":[
 {"data":{"name":"strips"},"transform":[{"filter":"datum.p=='9'"}],"mark":{"type":"rect","fill":"#ffe5cc","stroke":"black","strokeWidth":1},"encoding":{"x":{"datum":-2590,"type":"quantitative","axis":null},"x2":{"datum":2805},"y":{"datum":113.7,"type":"quantitative","axis":null},"y2":{"datum":133.2}}},
 {"data":{"name":"strips"},"transform":[{"filter":"datum.p=='9'"}],"mark":{"type":"text","fontSize":22,"font":"Liberation Sans","color":"black"},"encoding":{"x":{"datum":107.5,"type":"quantitative","axis":null},"y":{"datum":123.45,"type":"quantitative","axis":null},"text":{"field":"p"}}},
 {"data":{"name":"fit"},"transform":[{"filter":"datum.p=='9'"}],"mark":{"type":"line","strokeWidth":2.5},"encoding":{"x":{"field":"t","type":"quantitative","scale":{"domain":[-2590,2805],"nice":false,"zero":false},"axis":{"orient":"bottom","values":[-2000,-1000,0,1000,2000],"labels":false,"title":null}},"y":{"field":"v","type":"quantitative","scale":{"domain":[30,133.2],"nice":false,"zero":false},"axis":{"orient":"right","values":[40,60,80,100],"title":null}},"color":{"field":"c","type":"nominal","scale":{"domain":["red","green"],"range":["#ff0000","#00c000"]},"legend":null}}},
 {"data":{"name":"obs"},"transform":[{"filter":"datum.p=='9'"}],"mark":{"type":"point","shape":"diamond","filled":false,"color":"black","size":70,"strokeWidth":1},"encoding":{"x":{"field":"t","type":"quantitative","axis":null},"y":{"field":"v","type":"quantitative","axis":null}}}
]}
],
"config": {
 "view": {"stroke": "black", "strokeWidth": 1},
 "axis": {"labelFont": "Liberation Sans", "labelFontSize": 18, "labelColor": "black", "tickColor": "black", "tickSize": 10.5, "tickWidth": 1, "labelPadding": 10, "domain": false, "grid": false, "labelFlush": false, "labelOverlap": false, "labelBound": false, "titleFont": "Liberation Sans", "titleFontSize": 22, "titleFontWeight": "normal", "titleColor": "black"},
 "axisTop": {"labelPadding": 7},
 "axisBottom": {"labelPadding": 10},
 "axisLeft": {"labelPadding": 12},
 "axisRight": {"labelPadding": 10}
}
}
